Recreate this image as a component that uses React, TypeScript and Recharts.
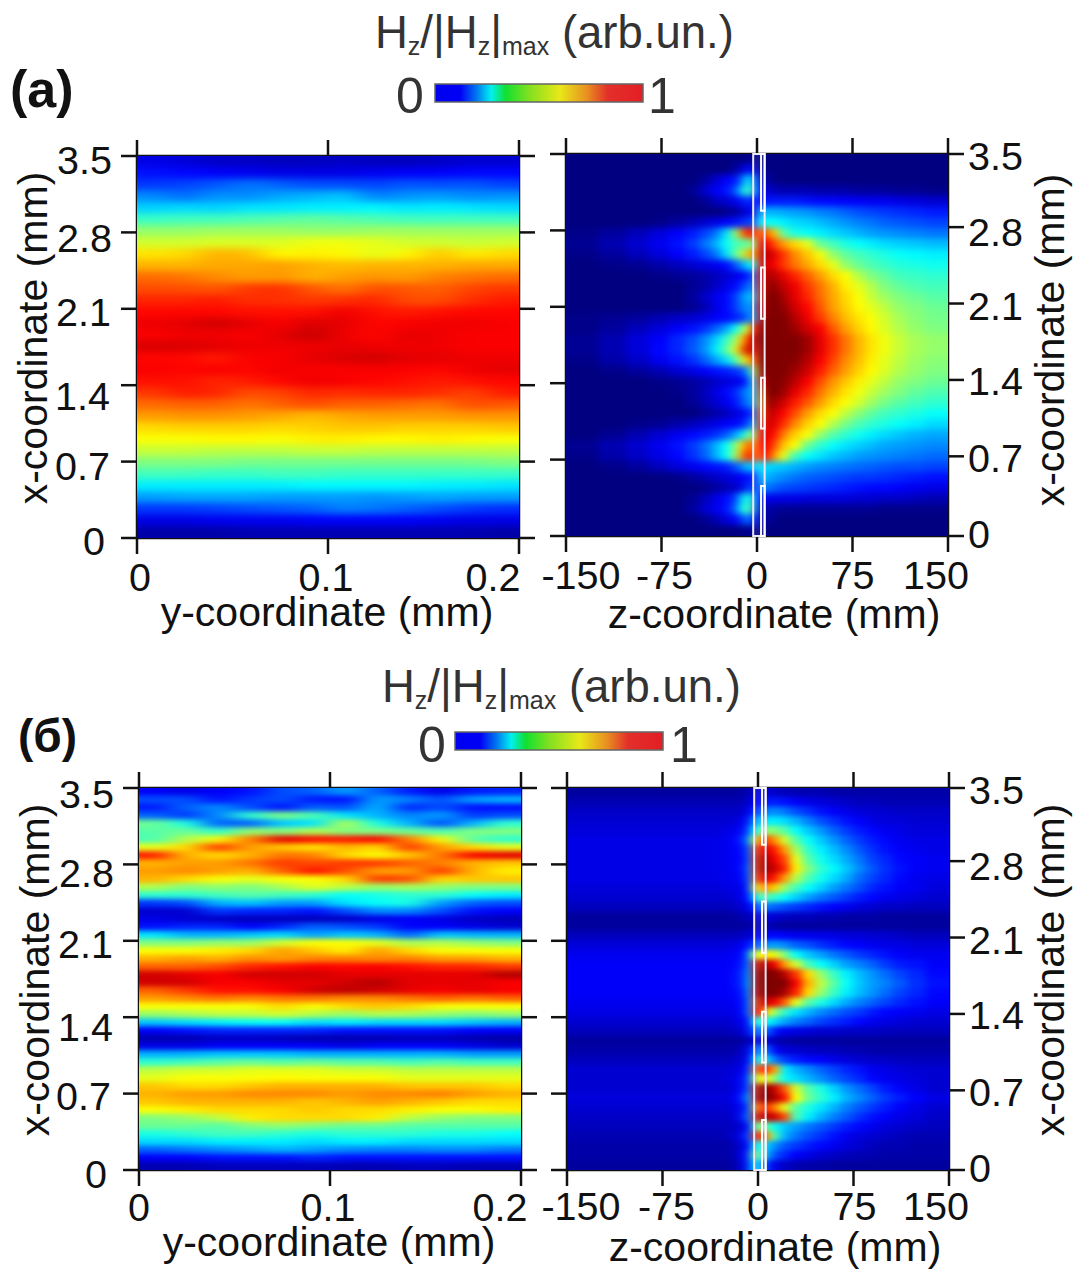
import { Bar, BarChart, ReferenceArea, Scatter, ScatterChart, XAxis, YAxis } from "recharts";

const FONT = "'Liberation Sans', Arial, sans-serif";
const PLOT = 382;
const BLUR_PAD = 40;

// field values in percent of |Hz|max, rows run from x = 3.5 mm down to x = 0
const topLeftRows = [
  [10, 9, 7, 7, 6, 6, 7, 6, 6, 7, 8, 8],
  [14, 13, 12, 11, 10, 10, 10, 11, 12, 12, 13, 13],
  [18, 19, 21, 24, 22, 20, 20, 19, 21, 20, 21, 19],
  [26, 23, 27, 26, 29, 30, 32, 25, 27, 28, 26, 27],
  [33, 34, 33, 35, 35, 36, 36, 37, 35, 36, 35, 34],
  [43, 44, 44, 45, 46, 47, 46, 45, 44, 44, 44, 44],
  [52, 52, 53, 53, 53, 52, 52, 53, 53, 53, 53, 53],
  [58, 58, 59, 59, 59, 61, 61, 60, 58, 58, 57, 58],
  [65, 66, 70, 69, 63, 64, 63, 60, 63, 68, 64, 66],
  [70, 70, 71, 71, 72, 70, 69, 70, 70, 70, 71, 71],
  [77, 76, 74, 72, 73, 70, 72, 73, 72, 75, 76, 77],
  [80, 80, 79, 82, 83, 79, 76, 80, 79, 78, 81, 82],
  [84, 84, 85, 83, 83, 82, 83, 84, 80, 80, 83, 85],
  [87, 87, 87, 86, 86, 86, 89, 86, 85, 86, 87, 87],
  [89, 90, 92, 90, 88, 91, 90, 87, 88, 89, 89, 88],
  [88, 89, 89, 88, 90, 93, 89, 87, 90, 89, 88, 88],
  [91, 91, 90, 89, 89, 89, 90, 89, 89, 89, 88, 88],
  [87, 87, 85, 88, 88, 90, 91, 92, 90, 90, 89, 89],
  [88, 87, 88, 87, 89, 88, 88, 88, 88, 87, 89, 90],
  [86, 86, 84, 85, 87, 89, 88, 87, 86, 85, 86, 87],
  [82, 85, 84, 80, 81, 84, 83, 84, 84, 83, 81, 85],
  [77, 78, 78, 76, 78, 80, 78, 78, 77, 76, 80, 79],
  [72, 73, 73, 72, 71, 69, 71, 72, 72, 72, 73, 73],
  [66, 67, 67, 67, 66, 67, 68, 68, 67, 67, 67, 68],
  [62, 62, 63, 63, 62, 64, 64, 63, 63, 64, 63, 62],
  [57, 57, 56, 56, 56, 57, 57, 56, 56, 56, 56, 56],
  [50, 50, 50, 49, 49, 49, 49, 49, 49, 49, 49, 50],
  [44, 44, 43, 43, 44, 44, 43, 43, 43, 43, 43, 43],
  [36, 36, 36, 36, 36, 37, 37, 37, 37, 36, 36, 35],
  [28, 29, 29, 29, 28, 28, 28, 27, 28, 29, 28, 28],
  [18, 18, 19, 20, 21, 22, 25, 24, 22, 20, 18, 17],
  [10, 10, 11, 11, 11, 12, 12, 12, 12, 11, 10, 10],
  [4, 4, 4, 5, 5, 5, 5, 5, 5, 5, 5, 4],
];

const bottomLeftRows = [
  [12, 10, 12, 14, 20, 22, 28, 22, 15, 10, 15, 16],
  [20, 20, 14, 18, 20, 15, 14, 28, 25, 20, 28, 30],
  [15, 22, 26, 20, 14, 22, 20, 30, 16, 20, 14, 14],
  [22, 18, 26, 42, 50, 45, 35, 30, 25, 28, 18, 20],
  [48, 40, 22, 22, 32, 35, 55, 40, 30, 20, 30, 42],
  [46, 48, 42, 52, 50, 55, 50, 50, 48, 45, 50, 50],
  [45, 55, 62, 75, 90, 86, 85, 88, 75, 62, 46, 42],
  [60, 66, 82, 72, 68, 65, 70, 66, 82, 72, 66, 60],
  [85, 70, 66, 70, 76, 75, 66, 62, 68, 76, 88, 90],
  [70, 72, 72, 76, 82, 80, 82, 82, 78, 75, 70, 68],
  [72, 74, 72, 70, 78, 86, 80, 72, 72, 82, 70, 64],
  [70, 66, 62, 60, 62, 62, 66, 82, 80, 66, 68, 68],
  [55, 50, 52, 50, 54, 60, 56, 52, 54, 52, 50, 50],
  [42, 42, 44, 46, 44, 42, 38, 40, 42, 42, 38, 36],
  [18, 20, 30, 32, 28, 28, 35, 38, 40, 28, 22, 20],
  [8, 8, 18, 16, 16, 14, 20, 26, 26, 20, 14, 12],
  [10, 8, 7, 6, 6, 6, 7, 10, 12, 10, 7, 6],
  [14, 16, 16, 12, 16, 22, 20, 18, 12, 12, 10, 8],
  [35, 30, 30, 32, 34, 28, 32, 30, 22, 32, 30, 30],
  [50, 50, 52, 52, 58, 62, 62, 60, 54, 55, 52, 50],
  [62, 62, 64, 66, 72, 68, 64, 72, 66, 62, 62, 62],
  [70, 72, 70, 74, 72, 75, 75, 74, 75, 72, 72, 70],
  [78, 78, 80, 84, 86, 88, 87, 88, 86, 84, 84, 82],
  [92, 90, 88, 92, 92, 92, 90, 90, 90, 90, 90, 95],
  [92, 92, 88, 88, 90, 90, 92, 95, 90, 90, 90, 88],
  [78, 82, 86, 86, 88, 92, 94, 92, 90, 88, 90, 88],
  [72, 74, 76, 74, 76, 76, 74, 74, 76, 78, 76, 78],
  [62, 62, 62, 62, 66, 62, 66, 68, 66, 62, 62, 62],
  [52, 54, 56, 56, 58, 55, 52, 55, 54, 52, 50, 52],
  [32, 34, 36, 38, 38, 34, 36, 34, 34, 34, 32, 30],
  [12, 14, 16, 16, 16, 16, 14, 14, 14, 14, 12, 12],
  [5, 5, 7, 7, 6, 5, 5, 5, 6, 6, 5, 4],
  [10, 10, 12, 12, 12, 12, 10, 12, 12, 12, 10, 8],
  [30, 30, 32, 32, 32, 30, 30, 30, 30, 30, 28, 28],
  [42, 44, 46, 48, 46, 48, 46, 46, 44, 46, 44, 44],
  [56, 58, 58, 60, 60, 60, 58, 58, 56, 56, 56, 56],
  [60, 62, 62, 62, 63, 62, 62, 62, 60, 60, 60, 60],
  [68, 66, 66, 68, 70, 70, 70, 70, 68, 68, 68, 66],
  [70, 72, 72, 74, 74, 74, 72, 74, 74, 75, 72, 70],
  [68, 70, 70, 70, 70, 68, 70, 72, 70, 68, 66, 66],
  [62, 64, 66, 66, 66, 68, 66, 66, 64, 62, 62, 64],
  [50, 52, 56, 64, 66, 66, 66, 64, 56, 52, 50, 50],
  [48, 48, 46, 50, 52, 50, 48, 48, 46, 46, 46, 46],
  [40, 42, 44, 44, 42, 40, 42, 42, 42, 40, 40, 38],
  [34, 34, 36, 36, 36, 34, 36, 36, 34, 34, 34, 34],
  [22, 24, 26, 28, 30, 28, 26, 25, 25, 26, 26, 24],
  [12, 12, 14, 14, 14, 16, 14, 14, 14, 14, 14, 14],
  [5, 5, 6, 6, 6, 6, 5, 5, 6, 6, 5, 5],
];

const topRightRows = [
  [0, 0, 0, 0, 0, 0, 0, 0, 0, 0, 0, 1, 2, 0, 0, 0, 0, 0, 0, 0, 0, 0, 0, 0, 0, 0, 0, 0],
  [0, 0, 0, 0, 0, 0, 0, 0, 0, 3, 8, 14, 10, 2, 1, 0, 0, 0, 0, 0, 0, 0, 0, 0, 0, 0, 0, 0],
  [0, 0, 0, 0, 0, 0, 3, 8, 12, 14, 24, 38, 25, 8, 3, 1, 0, 0, 0, 0, 0, 0, 0, 0, 0, 0, 0, 0],
  [0, 0, 0, 0, 0, 2, 8, 12, 14, 20, 34, 46, 30, 12, 8, 6, 5, 5, 5, 4, 4, 4, 3, 3, 3, 2, 2, 1],
  [0, 0, 0, 0, 0, 0, 2, 6, 8, 10, 14, 18, 12, 14, 14, 15, 15, 15, 14, 13, 13, 12, 12, 11, 11, 10, 9, 8],
  [0, 0, 0, 0, 0, 0, 0, 0, 1, 3, 6, 12, 8, 30, 30, 30, 29, 28, 27, 25, 24, 22, 20, 19, 18, 17, 16, 15],
  [0, 0, 0, 1, 3, 5, 8, 10, 12, 14, 16, 20, 18, 38, 38, 38, 36, 34, 33, 31, 29, 27, 25, 24, 22, 21, 20, 19],
  [1, 3, 6, 9, 12, 15, 19, 24, 34, 50, 75, 88, 80, 80, 78, 68, 46, 40, 38, 36, 34, 32, 30, 28, 27, 26, 25, 24],
  [2, 5, 8, 11, 14, 18, 24, 30, 38, 44, 46, 48, 52, 90, 88, 80, 72, 66, 60, 48, 44, 40, 38, 36, 34, 33, 32, 31],
  [1, 3, 6, 9, 12, 15, 19, 24, 34, 46, 56, 72, 70, 94, 94, 90, 82, 74, 68, 61, 52, 47, 44, 42, 40, 38, 37, 36],
  [0, 1, 2, 4, 6, 8, 10, 11, 13, 20, 28, 36, 40, 90, 92, 88, 82, 76, 71, 66, 60, 52, 48, 45, 43, 41, 40, 39],
  [0, 0, 0, 1, 2, 3, 4, 6, 8, 10, 12, 15, 25, 88, 96, 94, 90, 84, 78, 72, 66, 62, 55, 50, 47, 44, 43, 42],
  [0, 0, 0, 0, 0, 2, 4, 7, 10, 13, 18, 24, 25, 85, 98, 98, 93, 89, 82, 76, 70, 64, 60, 55, 50, 47, 45, 44],
  [0, 0, 0, 0, 0, 3, 7, 11, 13, 18, 26, 32, 30, 85, 100, 100, 96, 90, 84, 77, 71, 66, 62, 57, 53, 50, 48, 46],
  [0, 0, 0, 0, 0, 2, 5, 10, 13, 18, 24, 28, 26, 88, 100, 100, 98, 92, 87, 79, 72, 67, 63, 60, 56, 52, 50, 48],
  [1, 2, 3, 5, 7, 8, 10, 12, 13, 15, 18, 24, 30, 92, 100, 100, 100, 95, 89, 82, 75, 69, 65, 62, 58, 54, 51, 49],
  [1, 3, 6, 9, 12, 14, 17, 22, 28, 38, 50, 60, 88, 98, 100, 100, 100, 97, 92, 88, 79, 72, 67, 63, 59, 55, 52, 50],
  [2, 5, 9, 12, 16, 20, 26, 33, 42, 52, 68, 85, 95, 100, 100, 100, 100, 100, 97, 90, 83, 76, 70, 65, 61, 57, 54, 52],
  [2, 5, 9, 13, 16, 21, 27, 36, 46, 58, 78, 95, 85, 100, 100, 100, 100, 100, 97, 90, 83, 76, 70, 65, 61, 57, 54, 52],
  [1, 4, 7, 11, 14, 17, 22, 28, 34, 44, 58, 70, 78, 100, 100, 100, 100, 99, 95, 88, 81, 74, 69, 64, 60, 56, 53, 51],
  [0, 1, 3, 5, 8, 10, 12, 14, 15, 17, 20, 30, 55, 98, 100, 100, 100, 97, 92, 85, 78, 72, 67, 63, 59, 55, 52, 50],
  [0, 0, 0, 1, 2, 3, 5, 7, 9, 10, 12, 20, 40, 88, 100, 100, 99, 94, 88, 80, 73, 68, 64, 60, 56, 52, 50, 48],
  [0, 0, 0, 0, 1, 3, 6, 10, 13, 16, 22, 28, 30, 78, 100, 100, 97, 90, 84, 76, 70, 65, 61, 57, 53, 50, 47, 45],
  [0, 0, 0, 0, 0, 2, 5, 8, 11, 14, 20, 26, 28, 72, 98, 96, 92, 85, 79, 72, 66, 62, 58, 53, 49, 46, 44, 42],
  [0, 0, 0, 0, 0, 0, 2, 4, 6, 9, 11, 15, 20, 74, 94, 92, 87, 80, 72, 66, 62, 56, 51, 47, 44, 42, 40, 38],
  [0, 0, 1, 2, 4, 6, 8, 10, 12, 13, 15, 22, 30, 82, 92, 90, 83, 74, 67, 62, 55, 49, 45, 42, 40, 38, 36, 34],
  [0, 2, 5, 8, 11, 13, 15, 17, 21, 28, 36, 50, 50, 88, 90, 86, 75, 67, 62, 52, 46, 42, 39, 36, 34, 32, 30, 29],
  [2, 5, 8, 11, 14, 18, 23, 30, 38, 50, 66, 82, 70, 88, 88, 80, 68, 62, 48, 42, 38, 35, 33, 31, 29, 28, 27, 26],
  [1, 4, 7, 10, 13, 17, 22, 30, 38, 52, 74, 88, 76, 82, 86, 72, 60, 44, 38, 35, 32, 30, 28, 27, 26, 25, 24, 23],
  [0, 1, 3, 6, 9, 11, 13, 14, 15, 20, 26, 34, 30, 36, 34, 33, 32, 30, 28, 26, 25, 24, 23, 22, 21, 20, 20, 19],
  [0, 0, 0, 0, 1, 3, 5, 7, 9, 10, 12, 15, 14, 32, 30, 28, 26, 24, 22, 21, 20, 19, 18, 18, 17, 16, 15, 14],
  [0, 0, 0, 0, 0, 0, 1, 3, 5, 7, 10, 20, 15, 26, 24, 22, 20, 19, 18, 17, 16, 15, 14, 13, 13, 12, 11, 10],
  [0, 0, 0, 0, 0, 2, 6, 10, 13, 18, 34, 42, 30, 12, 11, 10, 10, 10, 9, 9, 9, 9, 8, 8, 7, 7, 6, 5],
  [0, 0, 0, 0, 0, 3, 8, 11, 14, 22, 38, 48, 28, 6, 4, 3, 2, 2, 2, 2, 2, 2, 2, 2, 1, 1, 1, 1],
  [0, 0, 0, 0, 0, 0, 2, 5, 9, 12, 18, 26, 14, 5, 3, 1, 0, 0, 0, 0, 0, 0, 0, 0, 0, 0, 0, 0],
  [0, 0, 0, 0, 0, 0, 0, 0, 0, 0, 1, 2, 1, 1, 0, 0, 0, 0, 0, 0, 0, 0, 0, 0, 0, 0, 0, 0],
];

const bottomRightRows = [
  [3, 3, 3, 3, 3, 3, 3, 3, 3, 3, 4, 5, 8, 10, 8, 7, 6, 5, 5, 5, 4, 4, 4, 4, 4, 4, 4, 4],
  [5, 5, 5, 5, 5, 5, 5, 5, 5, 5, 6, 8, 12, 12, 15, 15, 14, 12, 10, 9, 8, 7, 6, 6, 5, 5, 5, 5],
  [7, 7, 7, 7, 7, 7, 7, 7, 7, 7, 8, 12, 18, 20, 26, 26, 24, 20, 17, 14, 12, 10, 9, 8, 8, 7, 7, 7],
  [8, 8, 8, 8, 8, 8, 8, 8, 8, 9, 11, 18, 28, 32, 36, 36, 34, 30, 25, 20, 17, 14, 12, 10, 9, 9, 8, 8],
  [9, 9, 9, 9, 9, 9, 9, 9, 10, 11, 14, 24, 38, 48, 52, 50, 46, 38, 32, 27, 22, 18, 15, 13, 11, 10, 9, 9],
  [10, 10, 10, 10, 10, 10, 10, 10, 11, 13, 18, 30, 62, 80, 80, 72, 58, 46, 38, 32, 27, 22, 18, 15, 13, 11, 10, 10],
  [10, 10, 10, 10, 10, 10, 10, 10, 11, 12, 15, 24, 78, 90, 90, 84, 72, 54, 42, 36, 31, 26, 21, 17, 14, 12, 11, 10],
  [10, 10, 10, 10, 10, 10, 10, 10, 11, 12, 14, 24, 82, 96, 94, 88, 80, 60, 46, 39, 34, 29, 24, 19, 16, 13, 12, 11],
  [10, 10, 10, 10, 10, 10, 10, 10, 11, 12, 15, 26, 82, 96, 96, 92, 84, 64, 50, 42, 37, 32, 26, 21, 17, 14, 12, 11],
  [10, 10, 10, 10, 10, 10, 10, 10, 11, 11, 14, 24, 76, 90, 90, 84, 72, 55, 45, 39, 34, 29, 23, 19, 16, 13, 11, 10],
  [9, 9, 9, 9, 9, 9, 9, 9, 10, 10, 12, 22, 62, 72, 72, 66, 52, 44, 38, 33, 28, 24, 20, 16, 14, 12, 11, 9],
  [8, 8, 8, 8, 8, 8, 8, 8, 8, 9, 12, 18, 36, 46, 44, 42, 38, 33, 28, 24, 21, 18, 15, 13, 11, 10, 9, 8],
  [6, 6, 6, 6, 6, 6, 6, 6, 6, 7, 9, 12, 18, 24, 24, 22, 20, 18, 16, 14, 12, 11, 9, 8, 7, 7, 6, 6],
  [3, 3, 3, 3, 3, 3, 3, 3, 3, 4, 5, 6, 8, 10, 9, 8, 7, 6, 6, 5, 5, 4, 4, 4, 3, 3, 3, 3],
  [3, 3, 3, 3, 3, 3, 3, 3, 3, 3, 3, 4, 5, 6, 5, 4, 3, 3, 3, 3, 3, 3, 3, 3, 3, 3, 3, 3],
  [6, 6, 6, 6, 6, 6, 6, 6, 6, 6, 7, 8, 10, 12, 13, 13, 12, 11, 11, 10, 10, 9, 9, 8, 8, 7, 6, 6],
  [9, 9, 9, 9, 9, 9, 9, 9, 9, 10, 12, 16, 20, 24, 28, 28, 26, 22, 20, 17, 15, 13, 12, 11, 10, 10, 9, 9],
  [11, 11, 11, 11, 11, 11, 11, 11, 11, 12, 14, 30, 60, 62, 64, 60, 50, 38, 32, 28, 24, 21, 18, 16, 14, 12, 11, 11],
  [12, 12, 12, 12, 12, 12, 12, 12, 12, 13, 16, 28, 85, 96, 94, 88, 72, 58, 44, 38, 33, 28, 25, 22, 18, 15, 14, 12],
  [12, 12, 12, 12, 12, 12, 12, 12, 12, 14, 18, 30, 92, 100, 100, 100, 94, 82, 66, 52, 43, 36, 31, 27, 23, 19, 16, 13],
  [12, 12, 12, 12, 12, 12, 12, 12, 12, 14, 18, 32, 94, 100, 100, 100, 100, 88, 70, 56, 46, 38, 32, 28, 25, 21, 17, 14],
  [12, 12, 12, 12, 12, 12, 12, 12, 12, 13, 16, 30, 90, 100, 100, 100, 96, 84, 66, 52, 43, 36, 31, 27, 23, 19, 16, 13],
  [11, 11, 11, 11, 11, 11, 11, 11, 11, 12, 15, 26, 78, 94, 92, 88, 78, 60, 46, 40, 34, 29, 25, 22, 19, 16, 14, 12],
  [10, 10, 10, 10, 10, 10, 10, 10, 10, 11, 14, 28, 84, 86, 62, 52, 42, 35, 30, 26, 23, 20, 18, 15, 13, 12, 11, 10],
  [8, 8, 8, 8, 8, 8, 8, 8, 8, 9, 12, 18, 42, 40, 38, 34, 29, 25, 22, 19, 17, 15, 13, 11, 10, 9, 8, 8],
  [6, 6, 6, 6, 6, 6, 6, 6, 6, 7, 9, 16, 22, 24, 22, 14, 11, 10, 9, 8, 8, 7, 7, 7, 6, 6, 6, 6],
  [3, 3, 3, 3, 3, 3, 3, 3, 3, 3, 4, 6, 8, 10, 8, 5, 4, 3, 3, 3, 3, 3, 3, 3, 3, 3, 3, 3],
  [4, 4, 4, 4, 4, 4, 4, 4, 4, 5, 7, 14, 22, 26, 22, 12, 9, 8, 7, 6, 6, 5, 5, 4, 4, 4, 4, 4],
  [6, 6, 6, 6, 6, 6, 6, 6, 6, 7, 9, 16, 32, 44, 32, 24, 18, 15, 13, 12, 10, 9, 8, 7, 7, 6, 6, 6],
  [8, 8, 8, 8, 8, 8, 8, 8, 8, 9, 12, 20, 72, 86, 82, 70, 36, 30, 26, 22, 19, 16, 14, 11, 10, 9, 8, 8],
  [8, 8, 8, 8, 8, 8, 8, 8, 9, 10, 14, 24, 56, 64, 60, 50, 38, 34, 30, 26, 22, 19, 16, 13, 11, 10, 9, 8],
  [8, 8, 8, 8, 8, 8, 8, 8, 8, 10, 14, 26, 84, 100, 98, 92, 78, 58, 46, 40, 33, 27, 23, 19, 15, 12, 10, 8],
  [9, 9, 9, 9, 9, 9, 9, 9, 9, 12, 18, 32, 88, 100, 100, 95, 86, 62, 48, 42, 36, 30, 26, 22, 18, 15, 12, 10],
  [8, 8, 8, 8, 8, 8, 8, 8, 8, 10, 14, 24, 70, 84, 82, 74, 60, 46, 40, 35, 30, 25, 21, 18, 15, 12, 10, 8],
  [7, 7, 7, 7, 7, 7, 7, 7, 7, 9, 16, 28, 85, 95, 94, 92, 80, 45, 36, 30, 25, 21, 17, 14, 12, 10, 9, 7],
  [6, 6, 6, 6, 6, 6, 6, 6, 6, 7, 10, 16, 48, 52, 44, 38, 32, 28, 24, 21, 18, 15, 13, 11, 9, 8, 7, 6],
  [5, 5, 5, 5, 5, 5, 5, 5, 6, 8, 14, 22, 80, 88, 70, 44, 30, 24, 20, 17, 14, 11, 9, 8, 7, 6, 5, 5],
  [4, 4, 4, 4, 4, 4, 4, 4, 4, 6, 10, 16, 40, 40, 32, 26, 21, 18, 15, 13, 11, 9, 8, 6, 5, 5, 4, 4],
  [4, 4, 4, 4, 4, 4, 4, 4, 4, 6, 12, 22, 52, 44, 28, 20, 16, 12, 10, 8, 7, 6, 5, 5, 4, 4, 4, 4],
  [3, 3, 3, 3, 3, 3, 3, 3, 3, 5, 10, 20, 36, 28, 16, 10, 7, 5, 4, 4, 3, 3, 3, 3, 3, 3, 3, 3],
];

// bin edges along each horizontal axis
const yEdges = [0, 0.0167, 0.0333, 0.05, 0.0667, 0.0833, 0.1, 0.1167, 0.1333, 0.15, 0.1667, 0.1833, 0.2];
const zEdges = [-150, -124, -102, -84, -69, -56, -45, -36, -28, -20.5, -14, -8.5, -4, 0.5, 5.5, 11, 17.5, 25.5, 35, 45, 55, 65, 75, 85, 95, 106, 118, 132, 150];

const xTicks = [0, 0.7, 1.4, 2.1, 2.8, 3.5];
const xTickLabels = ["0", "0.7", "1.4", "2.1", "2.8", "3.5"];
const shiftedTicks = [0, 0.73, 1.43, 2.13, 2.83, 3.5];
const yTicks = [0, 0.1, 0.2];
const yTickLabels = ["0", "0.1", "0.2"];
const zTicks = [-150, -75, 0, 75, 150];
const zTickLabels = ["-150", "-75", "0", "75", "150"];

// grating sketch, z and x ranges in the same units as the axes
const slabOuter = [-3, 6];
const slabSegments = [[2.98, 3.5], [1.99, 2.46], [0.985, 1.45], [0, 0.457]];

const colorbarOffsets = ["0%", "12%", "20%", "27%", "34%", "45%", "60%", "73%", "83%", "100%"];
const colorbarColors = ["#0000f0", "#0000f5", "#0078f0", "#00f0f0", "#10e030", "#80e020", "#e8e818", "#e89020", "#e3302a", "#e31e24"];
const colorbarValue = [{ name: "scale", full: 1 }];

const jetStops = [
  [0, 0, 0, 128],
  [0.125, 0, 0, 255],
  [0.375, 0, 255, 255],
  [0.625, 255, 255, 0],
  [0.875, 255, 0, 0],
  [1, 128, 0, 0],
];

function jet(percent: number) {
  const v = percent / 100;
  for (let i = 1; i < jetStops.length; i++) {
    const a = jetStops[i - 1];
    const b = jetStops[i];
    if (v <= b[0]) {
      const t = (v - a[0]) / (b[0] - a[0]);
      const c = [1, 2, 3].map(k => Math.round(a[k] + (b[k] - a[k]) * t));
      return `rgb(${c[0]},${c[1]},${c[2]})`;
    }
  }
  return "rgb(128,0,0)";
}

function buildCells(rows: number[][], edges: number[]) {
  const span = edges[edges.length - 1] - edges[0];
  const cells: any[] = [];
  rows.forEach((row, r) => {
    row.forEach((value, c) => {
      cells.push({
        x: (edges[c] + edges[c + 1]) / 2,
        y: 3.5 * (1 - (r + 0.5) / rows.length),
        value,
        w: ((edges[c + 1] - edges[c]) / span) * PLOT + 1,
        h: PLOT / rows.length + 1,
        // edge cells run on past the frame so the blur does not fade there
        padL: c === 0 ? BLUR_PAD : 0,
        padR: c === row.length - 1 ? BLUR_PAD : 0,
        padT: r === 0 ? BLUR_PAD : 0,
        padB: r === rows.length - 1 ? BLUR_PAD : 0,
      });
    });
  });
  return cells;
}

const HeatCell = (props: any) => {
  const { cx, cy, payload: p } = props;
  return (
    <rect
      x={cx - p.w / 2 - p.padL}
      y={cy - p.h / 2 - p.padT}
      width={p.w + p.padL + p.padR}
      height={p.h + p.padT + p.padB}
      fill={jet(p.value)}
    />
  );
};

const NoShape = () => <g />;
const NoTick = () => <g />;

const TickText = (props: any) => {
  const { x, y, index, labels, dx, dy, anchor } = props;
  return (
    <text x={x + dx[index]} y={y + dy[index]} textAnchor={anchor} fontFamily={FONT} fontSize={39.5} fill="#111">
      {labels[index]}
    </text>
  );
};

const axisLook = { stroke: "#111", strokeWidth: 2.5 };

function HeatPanel(props: any) {
  const { id, box, plot, rows, edges, domain, ticks, labels, bottomDx, bottomDy, sideDx, sideDy, labelsOnRight, slab, title, titleX, titleY, sideX, sideY, blur } = props;
  const cells = buildCells(rows, edges);
  const rightTickValues = labelsOnRight ? shiftedTicks : xTicks;
  return (
    <div style={{ position: "absolute", left: box.left, top: box.top }}>
      <ScatterChart width={box.width} height={box.height} margin={{ top: 0, right: 0, bottom: 0, left: 0 }}>
        <defs>
          <filter id={id} filterUnits="userSpaceOnUse" x={plot.left - box.left} y={plot.top - box.top} width={PLOT} height={PLOT} colorInterpolationFilters="sRGB">
            <feGaussianBlur stdDeviation={blur} />
          </filter>
        </defs>
        <XAxis type="number" dataKey="x" domain={domain} ticks={ticks} interval={0} height={box.height - (plot.top + PLOT - box.top)} tickSize={16} tickMargin={0} tick={<TickText labels={labels} dx={bottomDx} dy={bottomDy} anchor="middle" />} {...axisLook} />
        <XAxis xAxisId="top" orientation="top" type="number" dataKey="x" domain={domain} ticks={ticks} interval={0} height={plot.top - box.top} tickSize={16} tick={NoTick} {...axisLook} />
        <YAxis type="number" dataKey="y" domain={[0, 3.5]} ticks={xTicks} interval={0} width={plot.left - box.left} tickSize={16} tickMargin={0} tick={labelsOnRight ? NoTick : <TickText labels={xTickLabels} dx={sideDx} dy={sideDy} anchor="end" />} {...axisLook} />
        <YAxis yAxisId="right" orientation="right" type="number" dataKey="y" domain={[0, 3.5]} ticks={rightTickValues} interval={0} width={box.left + box.width - plot.left - PLOT} tickSize={16} tickMargin={0} tick={labelsOnRight ? <TickText labels={xTickLabels} dx={sideDx} dy={sideDy} anchor="start" /> : NoTick} {...axisLook} />
        <Scatter data={cells} shape={HeatCell} className={id} isAnimationActive={false} />
        <Scatter data={cells.slice(0, 1)} xAxisId="top" yAxisId="right" shape={NoShape} isAnimationActive={false} />
        {slab && <ReferenceArea x1={slabOuter[0]} x2={slabOuter[1]} y1={0} y2={3.5} fill="#ffffff" fillOpacity={0.08} stroke="#ece9f2" strokeWidth={2} zIndex={800} ifOverflow="visible" />}
        {slab && slabSegments.map(s => (
          <ReferenceArea key={s[0]} x1={3.2} x2={slabOuter[1]} y1={s[0]} y2={s[1]} fill="none" stroke="#ffffff" strokeWidth={2} zIndex={800} ifOverflow="visible" />
        ))}
        <text x={titleX - box.left} y={titleY - box.top} textAnchor="middle" fontFamily={FONT} fontSize={41} fill="#111">
          {title}
        </text>
        <text transform={`translate(${sideX - box.left} ${sideY - box.top}) rotate(-90)`} textAnchor="middle" fontFamily={FONT} fontSize={41} fill="#111">
          x-coordinate (mm)
        </text>
      </ScatterChart>
    </div>
  );
}

function ScaleHeader(props: any) {
  const { id, left, top, panel, panelSize, panelX, panelY, titleX, titleY, barLeft, barTop, zeroX, oneX, digitY } = props;
  const W = 800;
  const H = 130;
  const barWidth = 208;
  const barHeight = 18;
  return (
    <div style={{ position: "absolute", left, top }}>
      <BarChart
        width={W}
        height={H}
        layout="vertical"
        data={colorbarValue}
        barCategoryGap={0}
        margin={{ top: barTop - top, left: barLeft - left, right: W - (barLeft - left) - barWidth, bottom: H - (barTop - top) - barHeight }}
      >
        <defs>
          <linearGradient id={id} x1="0" y1="0" x2="1" y2="0">
            {colorbarOffsets.map((offset, i) => (
              <stop key={offset} offset={offset} stopColor={colorbarColors[i]} />
            ))}
          </linearGradient>
        </defs>
        <XAxis type="number" domain={[0, 1]} hide />
        <YAxis type="category" dataKey="name" hide />
        <Bar dataKey="full" fill={`url(#${id})`} stroke="#666" strokeWidth={1.5} isAnimationActive={false} />
        <text x={panelX - left} y={panelY - top} fontFamily={FONT} fontSize={panelSize} fontWeight="bold" fill="#111">
          {panel}
        </text>
        <text x={titleX - left} y={titleY - top} fontFamily={FONT} fontSize={45.5} fill="#333">
          H<tspan fontSize={25} dy={7}>z</tspan>
          <tspan dy={-7}>/|H</tspan>
          <tspan fontSize={25} dy={7}>z</tspan>
          <tspan dy={-7}>|</tspan>
          <tspan fontSize={25} dy={7}>max</tspan>
          <tspan dy={-7}> (arb.un.)</tspan>
        </text>
        <text x={zeroX - left} y={digitY - top} fontFamily={FONT} fontSize={50} fill="#333">0</text>
        <text x={oneX - left} y={digitY - top} fontFamily={FONT} fontSize={50} fill="#333">1</text>
      </BarChart>
    </div>
  );
}

export default function App() {
  return (
    <div style={{ position: "absolute", left: 0, top: 0, width: 1079, height: 1269, background: "#fff", overflow: "hidden" }}>
      <style>{`
        .heatA { filter: url(#heatA); }
        .heatB { filter: url(#heatB); }
        .heatC { filter: url(#heatC); }
        .heatD { filter: url(#heatD); }
      `}</style>

      <ScaleHeader id="barA" left={0} top={0} panel="(a)" panelSize={52} panelX={10} panelY={107} titleX={375} titleY={48} barLeft={435} barTop={84} zeroX={396} oneX={648} digitY={113} />
      <ScaleHeader id="barB" left={0} top={650} panel="(б)" panelSize={46} panelX={18} panelY={752} titleX={382} titleY={702} barLeft={455} barTop={732} zeroX={418} oneX={670} digitY={762} />

      <HeatPanel
        id="heatA"
        box={{ left: 0, top: 125, width: 543, height: 515 }}
        plot={{ left: 137, top: 156 }}
        rows={topLeftRows}
        edges={yEdges}
        domain={[0, 0.2]}
        ticks={yTicks}
        labels={yTickLabels}
        bottomDx={[3, -2, -26]}
        bottomDy={[37, 37, 37]}
        sideDx={[-16, -11, -11, -10, -9, -9]}
        sideDy={[17, 18, 25, 17, 20, 18]}
        blur="14 3.5"
        title="y-coordinate (mm)"
        titleX={327}
        titleY={626}
        sideX={47}
        sideY={338}
      />
      <HeatPanel
        id="heatB"
        box={{ left: 530, top: 125, width: 549, height: 515 }}
        plot={{ left: 566, top: 154 }}
        rows={topRightRows}
        edges={zEdges}
        domain={[-150, 150]}
        ticks={zTicks}
        labels={zTickLabels}
        bottomDx={[15, 3, 0, 0, -12]}
        bottomDy={[37, 37, 37, 37, 37]}
        sideDx={[4, 4, 4, 4, 4, 4]}
        sideDy={[12, 16, 15, 16, 19, 16]}
        labelsOnRight
        slab
        blur="4 3.2"
        title="z-coordinate (mm)"
        titleX={774}
        titleY={628}
        sideX={1064}
        sideY={340}
      />
      <HeatPanel
        id="heatC"
        box={{ left: 0, top: 760, width: 543, height: 509 }}
        plot={{ left: 139, top: 788 }}
        rows={bottomLeftRows}
        edges={yEdges}
        domain={[0, 0.2]}
        ticks={yTicks}
        labels={yTickLabels}
        bottomDx={[0, -2, -21]}
        bottomDy={[35, 35, 35]}
        sideDx={[-16, -12, -10, -10, -9, -9]}
        sideDy={[18, 16, 24, 17, 23, 20]}
        blur="12 2.4"
        title="y-coordinate (mm)"
        titleX={329}
        titleY={1256}
        sideX={49}
        sideY={970}
      />
      <HeatPanel
        id="heatD"
        box={{ left: 530, top: 760, width: 549, height: 509 }}
        plot={{ left: 567, top: 788 }}
        rows={bottomRightRows}
        edges={zEdges}
        domain={[-150, 150]}
        ticks={zTicks}
        labels={zTickLabels}
        bottomDx={[14, 4, 0, 1, -13]}
        bottomDy={[34, 34, 34, 34, 34]}
        sideDx={[4, 4, 4, 4, 4, 4]}
        sideDy={[12, 16, 15, 16, 19, 16]}
        labelsOnRight
        slab
        blur="4 2.6"
        title="z-coordinate (mm)"
        titleX={775}
        titleY={1261}
        sideX={1064}
        sideY={970}
      />
    </div>
  );
}
